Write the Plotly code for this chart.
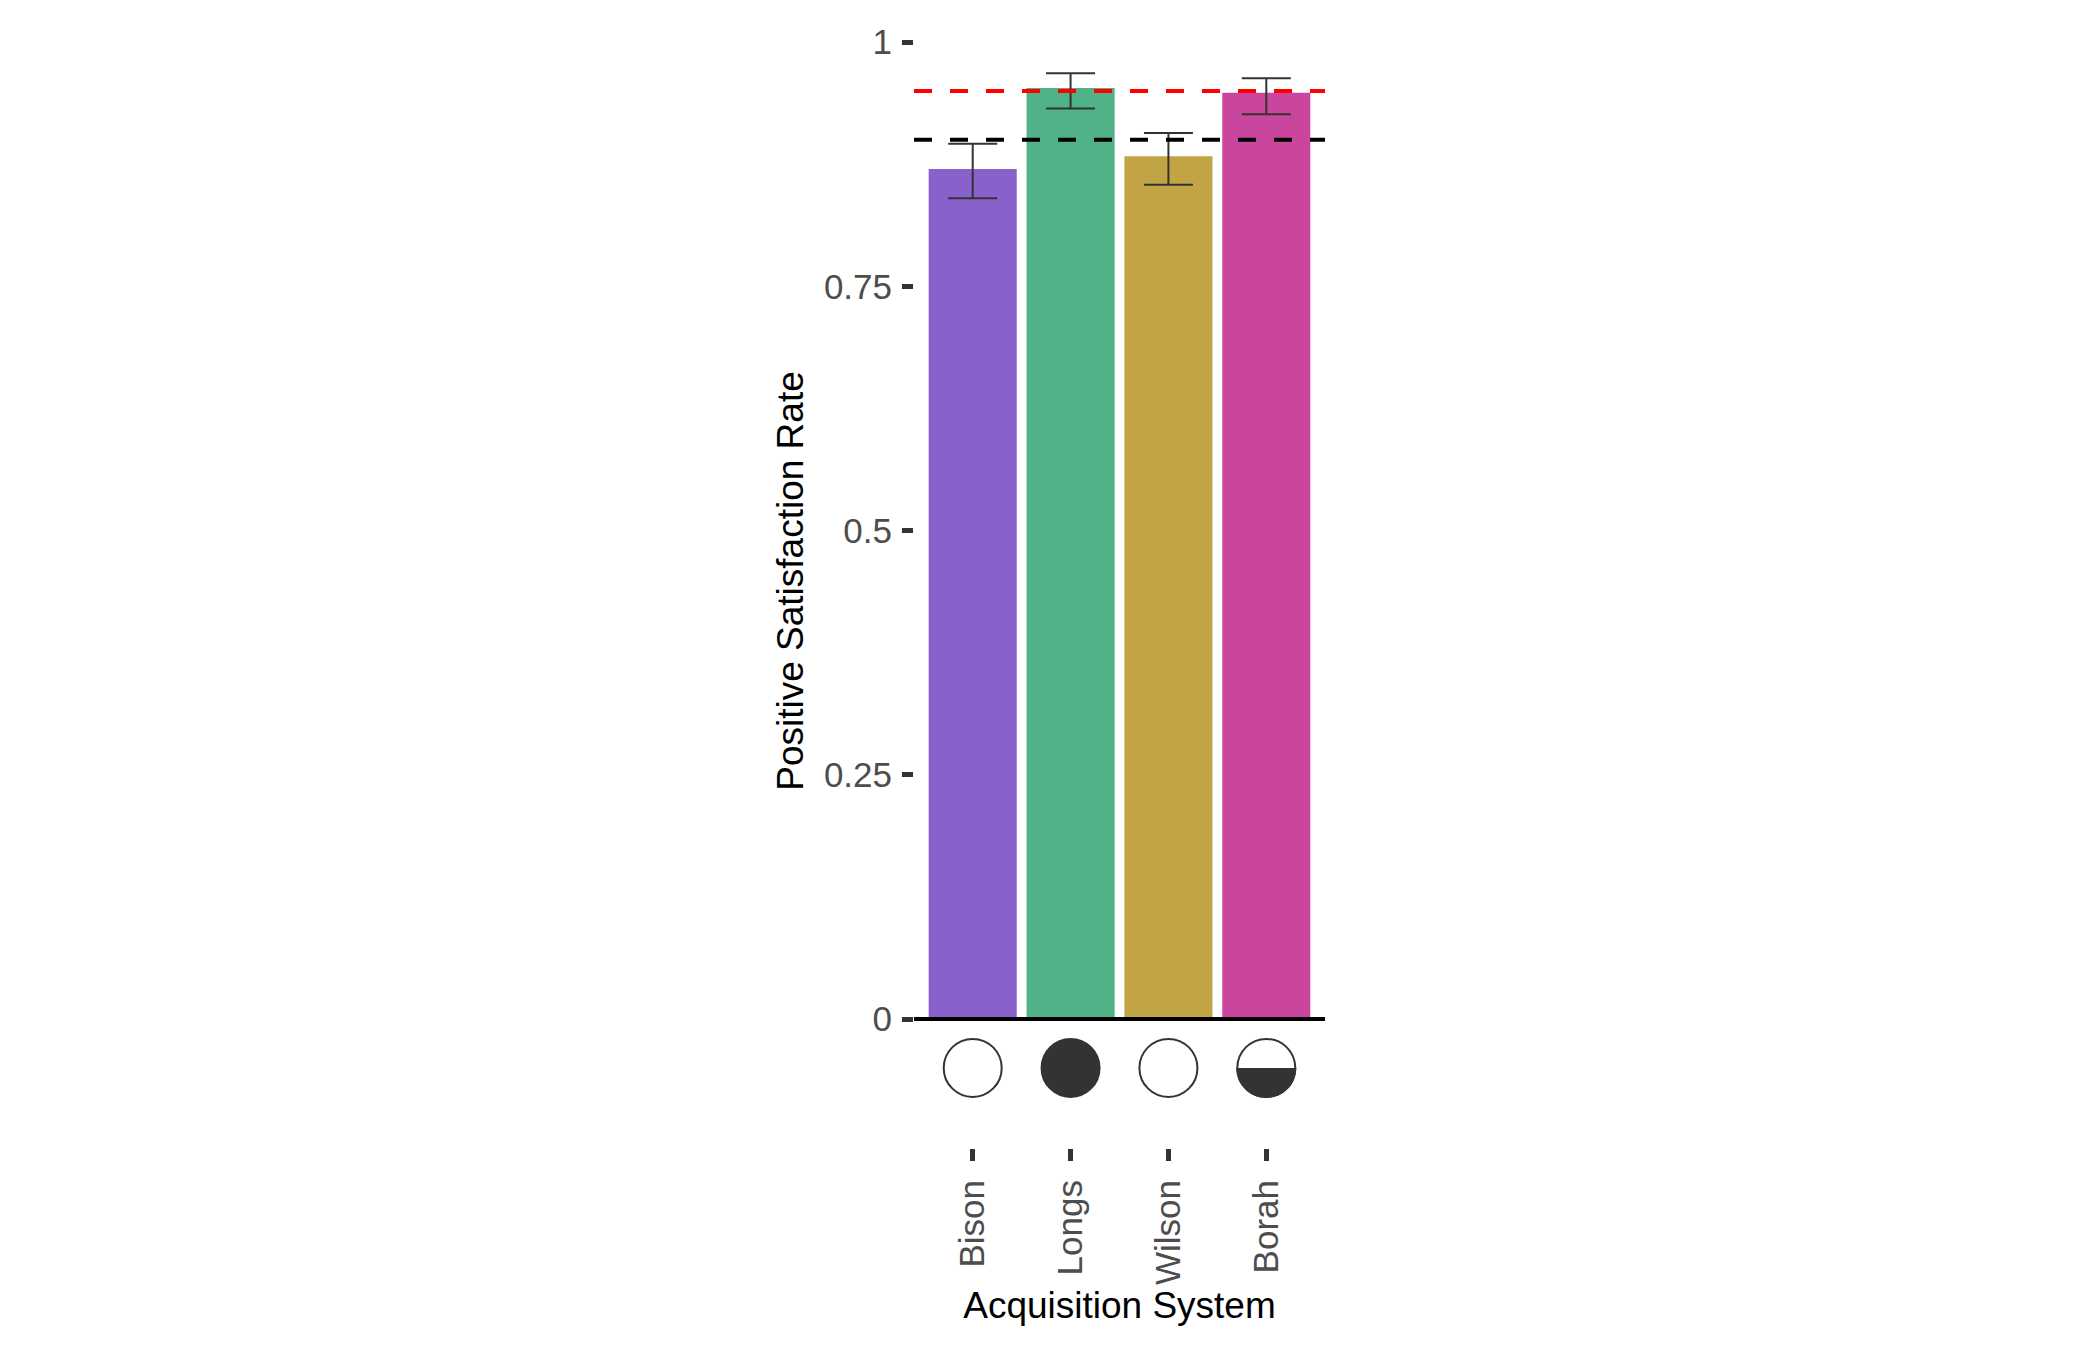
import plotly.graph_objects as go

# values
systems = ["Bison", "Longs", "Wilson", "Borah"]
rate = [0.870, 0.953, 0.883, 0.948]
rate_low = [0.840, 0.932, 0.854, 0.926]
rate_high = [0.896, 0.968, 0.907, 0.963]
bar_colors = ["#8862CA", "#52B287", "#C3A445", "#CA459E"]
icon_fill = [0, 1, 0, 0.5]   # share of circle shaded (harvey ball)
target_hi = 0.95
target_lo = 0.90

y_ticks = [0, 0.25, 0.5, 0.75, 1]
y_tick_text = ["0", "0.25", "0.5", "0.75", "1"]

ICON_Y = -0.05
DARK = "#333333"
FONT = "Liberation Sans, Arial, sans-serif"

fig = go.Figure()

fig.add_trace(go.Bar(
    x=systems, y=rate, width=0.9,
    marker=dict(color=bar_colors, line=dict(width=0)),
    error_y=dict(type="data", symmetric=False,
                 array=[h - v for h, v in zip(rate_high, rate)],
                 arrayminus=[v - l for v, l in zip(rate, rate_low)],
                 color=DARK, thickness=2, width=24.5),
    showlegend=False,
))

# icons under each bar
fig.add_trace(go.Scatter(
    x=systems, y=[ICON_Y] * len(systems), mode="markers",
    marker=dict(symbol="circle", size=58,
                color=[DARK if f >= 1 else "white" for f in icon_fill],
                line=dict(color=DARK, width=2)),
    showlegend=False, hoverinfo="skip", cliponaxis=False,
))

# bottom half shading for half-filled icons
r, k = 30, 0.5523 * 30
half_path = (f"M {-r},0 C {-r},{-k} {-k},{-r} 0,{-r} "
             f"C {k},{-r} {r},{-k} {r},0 Z")
for i, f in enumerate(icon_fill):
    if 0 < f < 1:
        fig.add_shape(type="path", xref="x", yref="y",
                      xsizemode="pixel", ysizemode="pixel",
                      xanchor=i, yanchor=ICON_Y, path=half_path,
                      fillcolor=DARK, line=dict(width=0), layer="above")

fig.add_hline(y=0, line=dict(color="black", width=4), layer="above")
fig.add_hline(y=target_hi, line=dict(color="#FF0000", width=4, dash="18px,18px"), layer="above")
fig.add_hline(y=target_lo, line=dict(color="black", width=4, dash="18px,18px"), layer="above")

# page body has an 8px margin, so pull the plot area up/left by that much
fig.update_layout(
    width=2100, height=1350,
    margin=dict(l=906, r=783, t=6, b=210),
    plot_bgcolor="white", paper_bgcolor="white",
    font=dict(family=FONT, color="#4D4D4D", size=35),
    showlegend=False,
)
fig.update_xaxes(
    type="category", range=[-0.6, 3.6], automargin=False,
    showgrid=False, zeroline=False, showline=False,
    ticks="outside", ticklen=12, tickwidth=5, tickcolor=DARK,
    tickangle=-90, ticklabelstandoff=5,
    tickfont=dict(size=35, color="#4D4D4D"),
    title=dict(text="Acquisition System", font=dict(size=37, color="black"), standoff=7),
)
fig.update_yaxes(
    range=[-0.132, 1.0287], automargin=False,
    tickvals=y_ticks, ticktext=y_tick_text,
    showgrid=False, zeroline=False, showline=False,
    ticks="outside", ticklen=11, tickwidth=5, tickcolor=DARK,
    ticklabelstandoff=3,
    tickfont=dict(size=35, color="#4D4D4D"),
    title=dict(text="Positive Satisfaction Rate", font=dict(size=37, color="black"), standoff=8),
)

fig.write_html("out.html")
